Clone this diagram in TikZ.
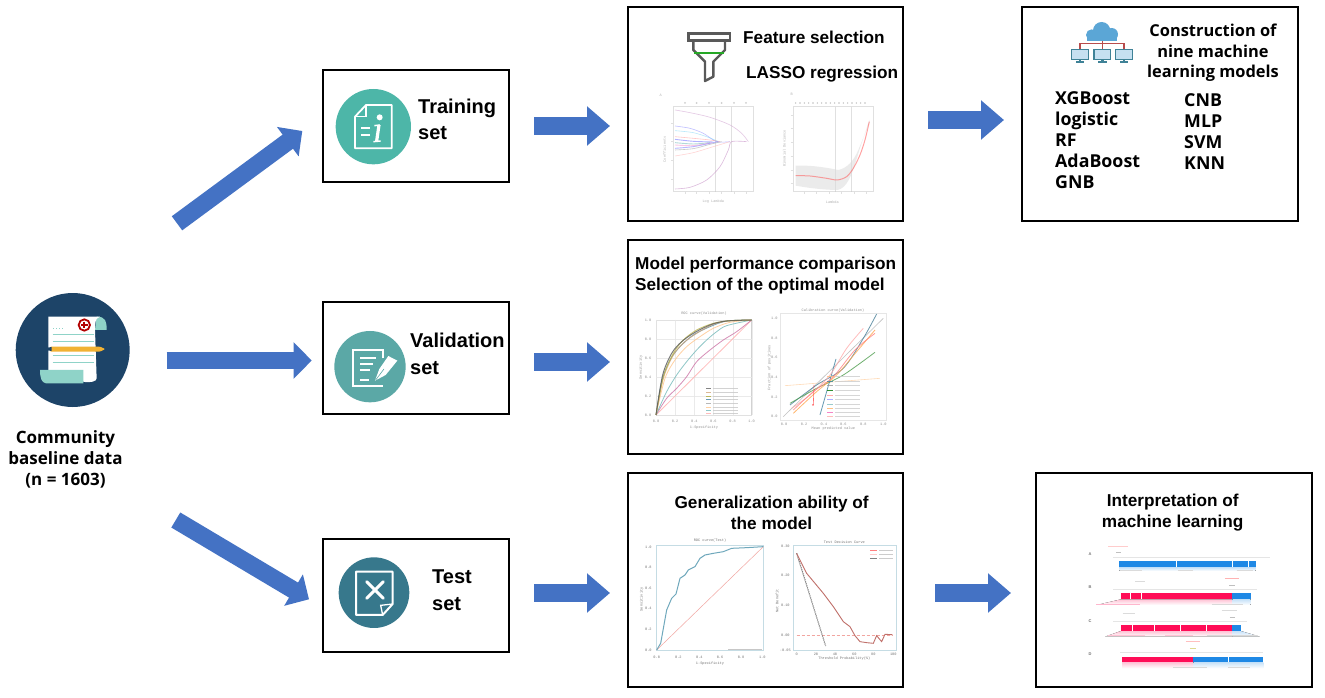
\documentclass[tikz,border=0pt]{standalone}
\usepackage{fontspec}
\setmainfont{Liberation Sans}
\setmonofont{Liberation Mono}
\newfontfamily\hum{Open Sans}
\usetikzlibrary{arrows.meta}
\definecolor{arrowblue}{HTML}{4472C4}
\definecolor{datanavy}{HTML}{1D4468}
\definecolor{mint}{HTML}{8FD3C8}
\definecolor{tealA}{HTML}{4DB6A8}
\definecolor{tealB}{HTML}{5BA8A6}
\definecolor{tealC}{HTML}{37788C}
\definecolor{shapblue}{HTML}{1E88E5}
\definecolor{shappink}{HTML}{FF0D57}
\definecolor{funnelgray}{HTML}{595959}
\definecolor{cloudblue}{HTML}{5BA6D6}
\definecolor{monitorteal}{HTML}{3F8297}
\definecolor{pencilyellow}{HTML}{F2B233}
\definecolor{rocblue}{HTML}{6FA8BC}
\definecolor{dcared}{HTML}{C0706A}
\definecolor{dcapink}{HTML}{F2A5A0}
\tikzset{
  boxnode/.style={draw=black,line width=2pt,fill=white,inner sep=0pt},
  smallarrow/.style={draw=arrowblue,line width=18pt,-{Triangle[length=23pt,width=38pt]}},
  bigarrow/.style={draw=arrowblue,line width=17.5pt,-{Triangle[length=18pt,width=35.5pt]}},
  headtext/.style={font=\bfseries\fontsize{17.2}{21}\selectfont,inner sep=0pt,align=center},
  settext/.style={font=\bfseries\fontsize{20}{26.5}\selectfont,inner sep=0pt,align=left,anchor=west},
  humtext/.style={font=\hum\bfseries\fontsize{17}{20.8}\selectfont,inner sep=0pt,align=center},
  constrtext/.style={font=\hum\bfseries\fontsize{16.4}{20.6}\selectfont,inner sep=0pt,align=center},
  listtext/.style={font=\hum\bfseries\fontsize{17.8}{21}\selectfont,inner sep=0pt,align=left,anchor=north west},
  tiny/.style={font=\ttfamily\fontsize{3.6}{4}\selectfont,text=black!55,inner sep=0pt},
  frm/.style={draw=black!22,line width=.5pt},
  crv/.style={line width=.6pt,smooth},
  zoomA/.style={shift={(630,0)},x=.3333pt,y=-.3333pt},
  zoomB/.style={shift={(630,235)},x=.3333pt,y=-.3333pt},
  zoomC/.style={shift={(630,470)},x=.3333pt,y=-.3333pt},
  zoomD/.style={shift={(1030,470)},x=.3333pt,y=-.3333pt},
  zoomE/.style={shift={(0,280)},x=.3333pt,y=-.3333pt},
  zoomF/.style={shift={(320,60)},x=.3333pt,y=-.3333pt},
  zoomG/.style={shift={(320,295)},x=.3333pt,y=-.3333pt},
  zoomH/.style={shift={(320,530)},x=.3333pt,y=-.3333pt},
  zoomI/.style={shift={(1020,0)},x=.3333pt,y=-.3333pt},
}
\begin{document}
\begin{tikzpicture}[x=1pt,y=-1pt]
\useasboundingbox (0,0) rectangle (1325,698);
\fill[white] (0,0) rectangle (1325,698);

% ---------- boxes
\node[boxnode,minimum width=186pt,minimum height=112pt] (train) at (416,126) {};
\node[boxnode,minimum width=186pt,minimum height=112pt] (val) at (416,358) {};
\node[boxnode,minimum width=186pt,minimum height=113pt] (test) at (416,595.5) {};
\node[boxnode,minimum width=275pt,minimum height=214pt] (feat) at (765.5,114) {};
\node[boxnode,minimum width=275pt,minimum height=214pt] (model) at (765.5,347) {};
\node[boxnode,minimum width=275pt,minimum height=214pt] (gen) at (765.5,580) {};
\node[boxnode,minimum width=276pt,minimum height=214pt] (constr) at (1160,114) {};
\node[boxnode,minimum width=276pt,minimum height=214pt] (interp) at (1174,580) {};
\node[circle,fill=datanavy,minimum size=114pt,inner sep=0pt] (data) at (72.7,350) {};

% ---------- block arrows
\draw[bigarrow] ([shift={(104.3,-126.7)}]data.center) -- ([shift={(-19.7,5)}]train.west);
\draw[bigarrow,shorten <=94pt,shorten >=10.3pt] ([yshift=-10.5pt]data.center) -- ([yshift=-10.5pt]data.center -| val.west);
\draw[bigarrow] ([shift={(103.1,170)}]data.center) -- ([shift={(-13,3.8)}]test.west);
\draw[smallarrow,shorten <=24pt,shorten >=17pt] (train.east) -- (train.east -| feat.west);
\draw[smallarrow,shorten <=24pt,shorten >=17pt] ([yshift=-4pt]val.east) -- ([yshift=-4pt]val.east -| model.west);
\draw[smallarrow,shorten <=24pt,shorten >=17pt] ([yshift=2.5pt]test.east) -- ([yshift=2.5pt]test.east -| gen.west);
\draw[smallarrow,shorten <=24pt,shorten >=17pt] ([yshift=-6pt]feat.east) -- ([yshift=-6pt]feat.east -| constr.west);
\draw[smallarrow,shorten <=31pt,shorten >=24pt] ([yshift=-13pt]gen.east) -- ([yshift=-13pt]gen.east -| interp.west);

% ---------- labels
\node[humtext] (datalabel) at (65.5,459.5) {Community\\baseline data\\(n = 1603)};
\node[settext] (trainlabel) at (418,119.5) {Training\\set};
\node[settext] (vallabel) at (410,354) {Validation\\set};
\node[settext] (testlabel) at (432,590) {Test\\set};
\node[headtext,anchor=west] (feattitle) at (743,37) {Feature selection};
\node[headtext,anchor=west] (lassotitle) at (746,74) {LASSO regression};
\node[headtext,anchor=west,align=left] (modeltitle) at (635,276) {Model performance comparison\\Selection of the optimal model};
\node[headtext] (gentitle) at (771.6,512.5) {Generalization ability of\\the model};
\node[headtext] (interptitle) at (1172.7,512.5) {Interpretation of\\machine learning};
\node[constrtext] (constrtitle) at (1213,53) {Construction of\\nine machine\\learning models};
\node[listtext] (listA) at (1055,91.5) {XGBoost\\logistic\\RF\\AdaBoost\\GNB};
\node[listtext] (listB) at (1184,93.5) {CNB\\MLP\\SVM\\KNN};

% ---------- data icon
\begin{scope}[zoomE]
\fill[mint] (290,110) .. controls (318,110) and (320,125) .. (320,150) -- (285,150) -- cycle;
\fill[white] (145,110) -- (300,110) .. controls (285,115) and (285,130) .. (285,150) -- (290,295) .. controls (290,305) and (270,308) .. (255,306) -- (145,280) -- cycle;
\fill[mint] (120,270) -- (250,270) -- (250,310) -- (138,310) .. controls (125,308) and (120,295) .. (120,270) -- cycle;
\draw[mint,line width=1pt] (158,163) -- (282,163) (158,184) -- (282,184) (158,226) -- (282,226) (158,248) -- (282,248);
\draw[mint,line width=1pt,dotted] (160,146) -- (190,146);
\fill[white] (253,135) circle (22);
\draw[red!70!black,line width=1.8pt] (253,135) circle (17);
\draw[red!70!black,line width=1.8pt] (243,135) -- (263,135) (253,125) -- (253,145);
\fill[pencilyellow,rounded corners=1pt] (150,200) -- (300,200) -- (316,207) -- (300,215) -- (150,215) -- cycle;
\fill[datanavy] (142,203) -- (155,201) -- (155,213) -- (142,211) -- cycle;
\end{scope}

% ---------- training icon
\begin{scope}[zoomF]
\fill[tealA] (160,200) circle (113);
\draw[white,line width=1.8pt,line join=round] (105,170) -- (138,135) -- (215,135) -- (215,265) -- (105,265) -- cycle;
\draw[white,line width=1.4pt] (105,170) -- (138,170) -- (138,135);
\draw[white,line width=1.8pt] (124,205) -- (150,205) (124,225) -- (150,225);
\fill[white] (179,172) circle (9);
\draw[white,line width=3.2pt] (177,195) -- (170,243);
\draw[white,line width=1.5pt] (163,197) -- (180,195) (160,245) -- (182,243);
\end{scope}

% ---------- validation icon
\begin{scope}[zoomG]
\fill[tealB] (150,215) circle (107);
\draw[white,line width=2.2pt] (190,190) -- (190,165) -- (100,165) -- (100,272) -- (190,272);
\draw[white,line width=1.8pt] (120,190) -- (168,190) (120,207) -- (160,207) (120,225) -- (150,225) (120,255) -- (146,255);
\fill[white] (232,197) -- (205,183) -- (178,222) -- (165,257) -- (197,240) -- cycle;
\draw[tealB,line width=.6pt] (167,255) -- (192,222);
\end{scope}

% ---------- test icon
\begin{scope}[zoomH]
\fill[tealC] (162,188) circle (106);
\draw[white,line width=2pt,line join=round] (108,125) -- (218,125) -- (218,222) -- (188,255) -- (108,255) -- cycle;
\draw[white,line width=1.3pt] (218,222) -- (182,226) -- (188,255);
\draw[white,line width=3pt,line cap=round] (140,155) -- (190,205) (190,155) -- (140,205);
\end{scope}

% ---------- funnel icon
\begin{scope}[zoomA]
\draw[funnelgray,line width=2.4pt,line join=round] (190,122) -- (190,150) -- (225,185) -- (225,243) -- (250,230) -- (250,185) -- (285,150) -- (285,122);
\draw[funnelgray,line width=2.4pt,fill=white] (175,100) rectangle (300,122);
\draw[green!60!black!85,line width=2.2pt] (192,158) -- (283,158);
\end{scope}

% ---------- chart A/B
\begin{scope}[zoomA,opacity=.55]
\node[tiny] (letA) at (92,285) {A};
\draw[frm] (130,320) rectangle (370,575);
\draw[frm] (257,320) -- (257,575) (303,320) -- (303,575);
\foreach \v in {165,200,237,275,312,348} \fill[black!35] (\v,309) circle (3);
\foreach \v in {165,200,237,275,312,348} \draw[frm] (\v,575) -- (\v,582);
\foreach \v in {370,425,481,537} \draw[frm] (123,\v) -- (130,\v);
\draw[crv,violet!40] plot coordinates {(135,330) (180,338) (240,352) (300,375) (335,400) (355,425)};
\draw[crv,violet!50] plot coordinates {(135,567) (180,562) (230,540) (270,500) (295,450) (305,425) (350,425)};
\draw[crv,blue!45] plot coordinates {(135,378) (180,385) (220,400) (260,425) (300,425)};
\draw[crv,cyan!50] plot coordinates {(135,392) (190,398) (235,412) (265,425)};
\draw[crv,red!40] plot coordinates {(135,410) (190,415) (240,420) (270,425)};
\draw[crv,blue!55,line width=.9pt] plot coordinates {(135,418) (190,424) (250,426)};
\draw[crv,teal!55,line width=.9pt] plot coordinates {(135,428) (190,432) (240,428)};
\draw[crv,magenta!40,line width=.9pt] plot coordinates {(135,435) (190,437) (245,428)};
\draw[crv,blue!50,line width=.9pt] plot coordinates {(135,445) (190,440) (240,430) (265,425)};
\draw[crv,black!40] plot coordinates {(135,450) (190,446) (240,433) (275,425)};
\draw[crv,red!30] plot coordinates {(135,468) (190,458) (250,440) (300,425)};
\node[tiny] (xlabA) at (250,606) {Log Lambda};
\node[tiny,rotate=90] (ylabA) at (104,448) {Coefficients};
\node[tiny] (letB) at (485,283) {B};
\draw[frm] (490,320) rectangle (730,575);
\draw[frm] (617,320) -- (617,575) (663,320) -- (663,575);
\foreach \v in {497,510,...,717} \fill[black!45] (\v,309) circle (2.4);
\foreach \v in {345,385,427,468,510,551} \draw[frm] (483,\v) -- (490,\v);
\foreach \v in {523,560,597,635,672,708} \draw[frm] (\v,575) -- (\v,582);
\fill[black!14] (497,497) .. controls (550,495) and (600,505) .. (625,510) .. controls (650,505) and (670,485) .. (685,450) -- (718,370) -- (718,360) -- (685,460) .. controls (665,530) and (650,565) .. (622,570) .. controls (590,570) and (540,565) .. (497,557) -- cycle;
\draw[line width=1pt,red!65,smooth] plot coordinates {(497,527) (540,528) (590,535) (622,540) (650,530) (670,505) (690,465) (705,420) (718,365)};
\node[tiny,rotate=90] (ylabB) at (463,445) {Binomial Deviance};
\node[tiny] (xlabB) at (607,606) {Lambda};
\end{scope}

% ---------- chart C/D
\begin{scope}[zoomB,opacity=.8]
\node[tiny] (titleC) at (222,236) {ROC curve(Validation)};
\draw[frm] (78,255) rectangle (365,540);
\foreach \v/\t in {78/0.0,135/0.2,193/0.4,250/0.6,308/0.8,365/1.0} {
  \draw[black!10,line width=.3pt] (\v,255) -- (\v,540);
  \node[tiny] at (\v,560) {\t};
}
\foreach \v/\t in {540/0.0,483/0.2,426/0.4,369/0.6,312/0.8,255/1.0} {
  \draw[black!10,line width=.3pt] (78,\v) -- (365,\v);
  \node[tiny] at (54,\v) {\t};
}
\node[tiny] (xlabC) at (222,578) {1-Specificity};
\node[tiny,rotate=90] (ylabC) at (33,397) {Sensitivity};
\draw[crv,pink!90!red,line width=.8pt] plot coordinates {(78,540) (365,255)};
\draw[crv,violet!40!pink,line width=.8pt] plot coordinates {(78,540) (110,490) (140,460) (170,425) (200,380) (240,345) (280,315) (320,290) (365,255)};
\draw[crv,teal!55,line width=.8pt] plot coordinates {(78,540) (110,470) (140,420) (170,380) (200,345) (230,315) (260,290) (290,272) (365,255)};
\draw[crv,orange!45,line width=.8pt] plot coordinates {(78,540) (105,430) (135,375) (170,335) (210,305) (250,280) (300,262) (365,255)};
\draw[crv,cyan!60!black,line width=.8pt] plot coordinates {(78,540) (95,440) (120,375) (150,335) (190,300) (240,275) (290,258) (365,255)};
\draw[crv,brown!70,line width=.9pt] plot coordinates {(78,540) (100,430) (130,360) (165,320) (205,292) (250,268) (295,258) (365,255)};
\draw[crv,olive!60,line width=.9pt] plot coordinates {(78,540) (100,425) (130,355) (160,315) (200,285) (250,265) (300,257) (365,255)};
\draw[crv,black!65,line width=1pt] plot coordinates {(78,540) (98,420) (125,355) (155,320) (195,292) (245,268) (290,258) (365,255)};
\foreach \v/\c in {461/black!60,472/brown!70,483/olive!70,494/cyan!60!black,505/black!35,516/orange!45,527/teal!55,534/pink!90!red} {
  \draw[\c,line width=.5pt] (228,\v) -- (243,\v);
  \draw[black!22,line width=.6pt] (248,\v) -- (325,\v);
}
\node[tiny] (titleD) at (609,226) {Calibration curve(Validation)};
\draw[black!12,line width=.5pt] (450,235) rectangle (770,555);
\foreach \v/\t in {462/0.0,522/0.2,582/0.4,640/0.6,700/0.8,760/1.0} \node[tiny] at (\v,568) {\t};
\foreach \v/\t in {545/0.0,487/0.2,427/0.4,368/0.6,309/0.8,250/1.0} \node[tiny] at (433,\v) {\t};
\node[tiny] (xlabD) at (610,582) {Mean predicted value};
\node[tiny,rotate=90] (ylabD) at (418,398) {Fraction of positives};
\draw[crv,orange!35] plot coordinates {(465,452) (750,430)};
\draw[crv,black!30] plot coordinates {(460,545) (760,250)};
\draw[crv,cyan!60!black,line width=.8pt] plot coordinates {(570,540) (590,470) (618,372)};
\draw[crv,cyan!55!black,line width=.8pt] plot coordinates {(480,510) (560,450) (640,400) (700,310) (740,237)};
\draw[crv,green!45!black!70,line width=.8pt] plot coordinates {(480,505) (560,460) (640,420) (735,352)};
\draw[crv,pink!90!red,line width=.8pt] plot coordinates {(485,520) (540,480) (600,420) (650,340) (700,280)};
\draw[crv,orange!70,line width=.8pt] plot coordinates {(490,535) (560,470) (620,420) (680,350) (735,285)};
\draw[crv,red!50,line width=.8pt] plot coordinates {(490,525) (550,470) (610,425) (675,345) (735,295)};
\draw[red!70,line width=.6pt] (550,510) -- (552,450);
\fill[red!70] (549,510) circle (3);
\foreach \v/\c in {425/orange!50,438/cyan!60!black,452/black!40,466/green!45!black,480/red!40,493/blue!40,507/teal!50,520/orange!60,533/magenta!60,545/pink!90!red} {
  \draw[\c,line width=.6pt] (592,\v) -- (610,\v);
  \draw[black!20,line width=.6pt] (616,\v) -- (690,\v);
}
\end{scope}

% ---------- chart E/F
\begin{scope}[zoomC]
\node[tiny] (titleE) at (240,212) {ROC curve(Test)};
\draw[rocblue!40,line width=.5pt] (78,225) rectangle (400,540);
\foreach \v/\t in {80/0.0,145/0.2,208/0.4,270/0.6,333/0.8,397/1.0} \node[tiny] at (\v,563) {\t};
\foreach \v/\t in {540/0.0,478/0.2,416/0.4,354/0.6,292/0.8,231/1.0} \node[tiny] at (55,\v) {\t};
\node[tiny] (xlabE) at (240,582) {1-Specificity};
\node[tiny,rotate=90] (ylabE) at (35,388) {Sensitivity};
\draw[line width=.5pt,dcapink] (80,540) -- (400,230);
\draw[rocblue,line width=1pt] plot coordinates {(80,540) (92,520) (110,420) (125,385) (138,372) (150,325) (165,315) (175,300) (195,290) (210,265) (225,255) (250,250) (280,245) (305,235) (350,233) (400,230)};
\draw[black!22,line width=.6pt] (295,537) -- (395,537);
\node[tiny] (titleF) at (643,218) {Test Decision Curve};
\draw[rocblue!40,line width=.5pt] (490,225) rectangle (800,540);
\foreach \v/\t in {500/0,558/20,615/40,673/60,730/80,790/100} \node[tiny] at (\v,553) {\t};
\foreach \v/\t in {228/0.30,317/0.20,407/0.10,497/0.00,542/-0.05} \node[tiny] at (466,\v) {\t};
\node[tiny] (xlabF) at (643,566) {Threshold Probability(\%)};
\node[tiny,rotate=90] (ylabF) at (441,393) {Net Benefit};
\draw[dcapink,line width=.8pt,densely dashed] (500,497) -- (787,497);
\draw[black!60,line width=1.1pt,densely dotted] (500,250) -- (587,528);
\draw[dcared,line width=.9pt] plot coordinates {(500,250) (530,310) (580,370) (610,410) (640,455) (660,470) (675,497) (690,515) (710,518) (730,520) (740,497) (755,515) (765,493) (787,494)};
\foreach \v/\c in {240/red!50,252/red!20,265/black!50} {
  \draw[\c,line width=.5pt] (720,\v) -- (740,\v);
  \draw[black!20,line width=.5pt] (748,\v) -- (790,\v);
}
\end{scope}

% ---------- chart G
\begin{scope}[zoomD]
\foreach \y/\lt in {253/A,352/B,452/C,551/D} \node[tiny,font=\bfseries\fontsize{4}{5}\selectfont] at (180,\y) {\lt};
% A
\fill[bottom color=white,top color=shapblue!30] (268,290) rectangle (677,303);
\fill[shapblue] (268,273) rectangle (677,290);
\draw[white,line width=.4pt] (440,273) -- (440,290) (607,273) -- (607,290) (655,273) -- (655,290);
\draw[black!10,line width=.5pt] (250,262) -- (720,262);
\draw[red!20,line width=.7pt] (235,228) -- (295,228);
\draw[black!25,line width=.7pt] (258,248) -- (274,248);
\draw[black!14,line width=.6pt] (270,302) -- (335,302) (445,302) -- (490,302) (620,302) -- (670,302);
% B
\fill[bottom color=white,top color=shappink!25] (273,388) -- (607,388) -- (607,405) -- (200,405) -- cycle;
\fill[bottom color=white,top color=shapblue!25] (607,388) rectangle (662,405);
\fill[shappink] (273,370) rectangle (607,388);
\fill[shapblue] (607,370) rectangle (662,388);
\draw[white,line width=.4pt] (300,370) -- (300,388) (335,370) -- (335,388);
\draw[black!10,line width=.5pt] (250,357) -- (680,357);
\draw[red!30,line width=.7pt] (585,324) -- (628,324);
\draw[black!25,line width=.7pt] (598,346) -- (616,346);
\draw[black!14,line width=.6pt] (315,335) -- (345,335);
\draw[shappink!30,line width=.8pt] (198,403) -- (330,403);
\draw[black!15,line width=.6pt] (545,403) -- (640,403);
% C
\fill[bottom color=white,top color=shappink!25] (273,483) -- (607,483) -- (607,500) -- (225,500) -- cycle;
\fill[bottom color=white,top color=shapblue!25] (607,483) -- (632,483) -- (690,500) -- (607,500) -- cycle;
\fill[shappink] (273,466) rectangle (607,483);
\fill[shapblue] (607,466) rectangle (632,483);
\draw[white,line width=.4pt] (308,466) -- (308,483) (372,466) -- (372,483) (450,466) -- (450,483) (528,466) -- (528,483);
\draw[black!10,line width=.5pt] (250,453) -- (650,453);
\draw[black!14,line width=.6pt] (278,431) -- (315,431) (575,420) -- (620,420);
\draw[black!25,line width=.7pt] (600,442) -- (616,442);
\draw[shappink!25,line width=.8pt] (235,497) -- (345,497) (405,497) -- (490,497);
\draw[black!15,line width=.6pt] (530,497) -- (680,497);
% D
\fill[bottom color=white,top color=shappink!25] (276,577) rectangle (490,595);
\fill[bottom color=white,top color=shapblue!25] (490,577) rectangle (700,595);
\fill[shappink] (276,560) rectangle (490,577);
\fill[shapblue] (490,560) rectangle (700,577);
\draw[white,line width=.4pt] (595,560) -- (595,577);
\draw[black!10,line width=.5pt] (270,548) -- (700,548);
\draw[red!25,line width=.7pt] (468,513) -- (510,513);
\draw[yellow!70!black!50,line width=.7pt] (480,535) -- (498,535);
\draw[black!15,line width=.6pt] (430,592) -- (530,592) (595,592) -- (660,592);
\end{scope}

% ---------- cloud icon
\begin{scope}[zoomI]
\fill[cloudblue] (245,92) circle (26) (215,105) circle (17) (275,103) circle (19);
\fill[cloudblue] (200,108) rectangle (292,123);
\draw[red!60!black!70,line width=1.2pt] (247,123) -- (247,146) (180,146) -- (180,131) -- (312,131) -- (312,146);
\foreach \m in {180,247,312} {
  \draw[monitorteal,line width=1.4pt,fill=cloudblue!35] (\m-25,148) rectangle (\m+25,178);
  \fill[monitorteal] (\m-4,178) rectangle (\m+4,184);
  \fill[monitorteal] (\m-13,184) rectangle (\m+13,188);
}
\end{scope}
\end{tikzpicture}
\end{document}
